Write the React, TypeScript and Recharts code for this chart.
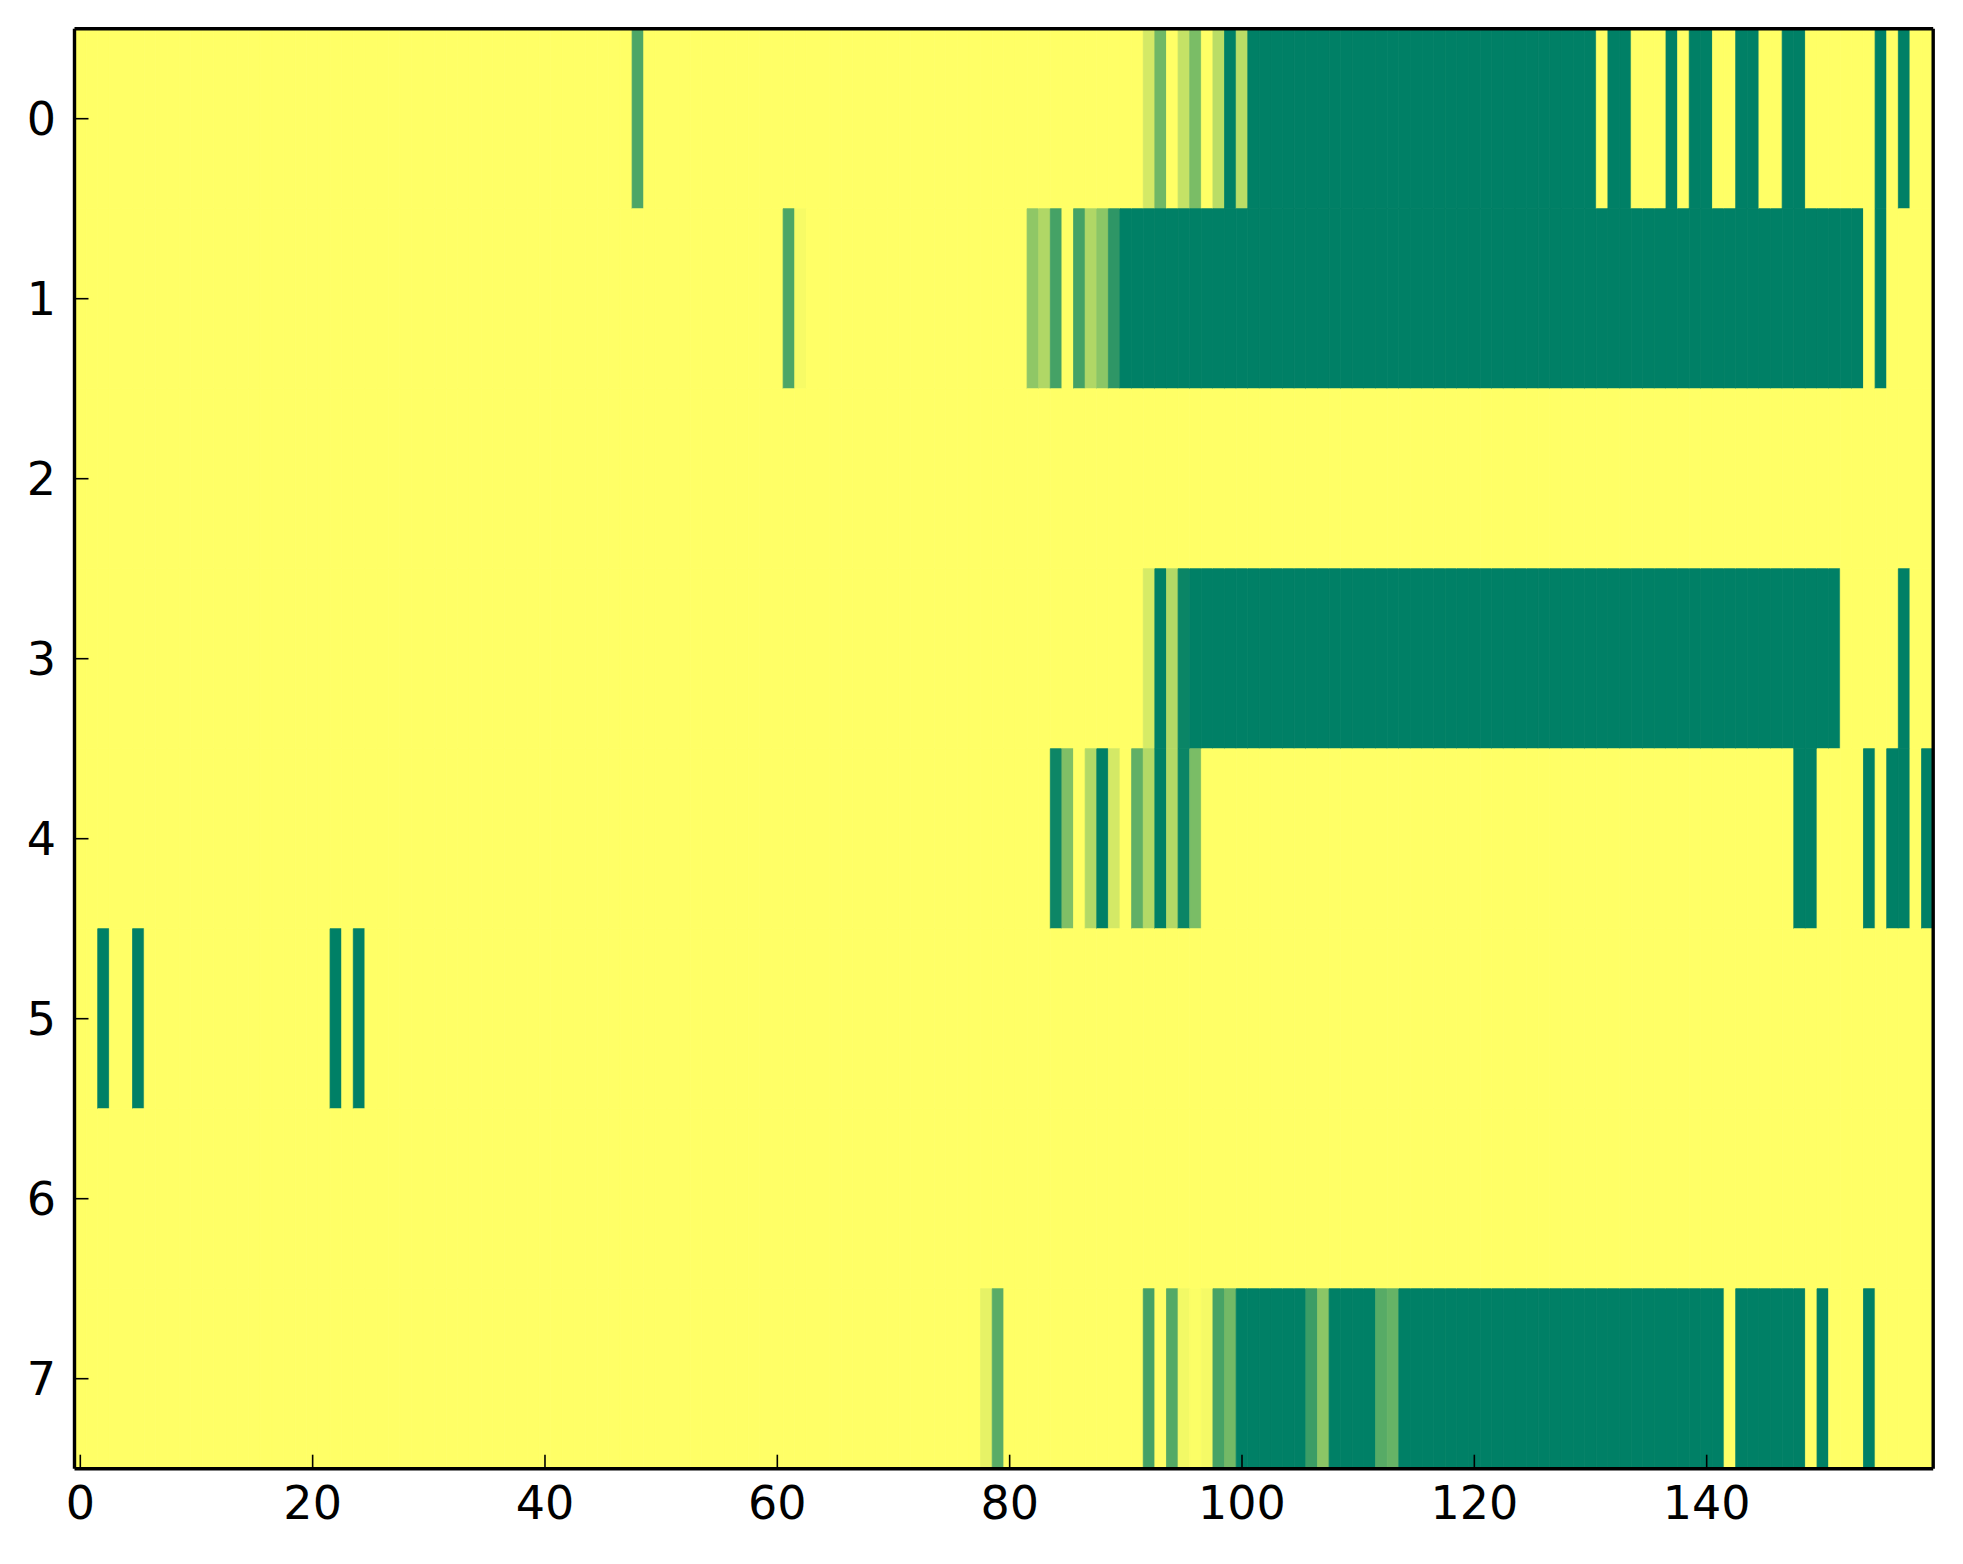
import { BarChart, Bar, Cell, XAxis, YAxis } from "recharts";

// Heatmap rows, one value per column (0 = yellow, 1 = dark green, summer_r map)
const ROW_LABELS = ["0", "1", "2", "3", "4", "5", "6", "7"];
const X_TICKS = [0, 20, 40, 60, 80, 100, 120, 140];

const row0 = [
  0, 0, 0, 0, 0, 0, 0, 0, 0, 0, 0, 0, 0, 0, 0, 0, 0, 0, 0, 0,
  0, 0, 0, 0, 0, 0, 0, 0, 0, 0, 0, 0, 0, 0, 0, 0, 0, 0, 0, 0,
  0, 0, 0, 0, 0, 0, 0, 0, 0.7, 0, 0, 0, 0, 0, 0, 0, 0, 0, 0, 0,
  0, 0, 0, 0, 0, 0, 0, 0, 0, 0, 0, 0, 0, 0, 0, 0, 0, 0, 0, 0,
  0, 0, 0, 0, 0, 0, 0, 0, 0, 0, 0, 0, 0.17, 0.56, 0, 0.23, 0.52, 0, 0.27, 1,
  0.27, 1, 1, 1, 1, 1, 1, 1, 1, 1, 1, 1, 1, 1, 1, 1, 1, 1, 1, 1,
  1, 1, 1, 1, 1, 1, 1, 1, 1, 1, 1, 0, 1, 1, 0, 0, 0, 1, 0, 1,
  1, 0, 0, 1, 1, 0, 0, 1, 1, 0, 0, 0, 0, 0, 0, 1, 0, 1, 0, 0,
];

const row1 = [
  0, 0, 0, 0, 0, 0, 0, 0, 0, 0, 0, 0, 0, 0, 0, 0, 0, 0, 0, 0,
  0, 0, 0, 0, 0, 0, 0, 0, 0, 0, 0, 0, 0, 0, 0, 0, 0, 0, 0, 0,
  0, 0, 0, 0, 0, 0, 0, 0, 0, 0, 0, 0, 0, 0, 0, 0, 0, 0, 0, 0,
  0, 0.7, 0.03, 0, 0, 0, 0, 0, 0, 0, 0, 0, 0, 0, 0, 0, 0, 0, 0, 0,
  0, 0, 0.44, 0.31, 0.73, 0, 0.73, 0.31, 0.45, 0.82, 1, 1, 1, 1, 1, 1, 1, 1, 1, 1,
  1, 1, 1, 1, 1, 1, 1, 1, 1, 1, 1, 1, 1, 1, 1, 1, 1, 1, 1, 1,
  1, 1, 1, 1, 1, 1, 1, 1, 1, 1, 1, 1, 1, 1, 1, 1, 1, 1, 1, 1,
  1, 1, 1, 1, 1, 1, 1, 1, 1, 1, 1, 1, 1, 1, 0, 1, 0, 0, 0, 0,
];

const row2 = [
  0, 0, 0, 0, 0, 0, 0, 0, 0, 0, 0, 0, 0, 0, 0, 0, 0, 0, 0, 0,
  0, 0, 0, 0, 0, 0, 0, 0, 0, 0, 0, 0, 0, 0, 0, 0, 0, 0, 0, 0,
  0, 0, 0, 0, 0, 0, 0, 0, 0, 0, 0, 0, 0, 0, 0, 0, 0, 0, 0, 0,
  0, 0, 0, 0, 0, 0, 0, 0, 0, 0, 0, 0, 0, 0, 0, 0, 0, 0, 0, 0,
  0, 0, 0, 0, 0, 0, 0, 0, 0, 0, 0, 0, 0, 0, 0, 0, 0, 0, 0, 0,
  0, 0, 0, 0, 0, 0, 0, 0, 0, 0, 0, 0, 0, 0, 0, 0, 0, 0, 0, 0,
  0, 0, 0, 0, 0, 0, 0, 0, 0, 0, 0, 0, 0, 0, 0, 0, 0, 0, 0, 0,
  0, 0, 0, 0, 0, 0, 0, 0, 0, 0, 0, 0, 0, 0, 0, 0, 0, 0, 0, 0,
];

const row3 = [
  0, 0, 0, 0, 0, 0, 0, 0, 0, 0, 0, 0, 0, 0, 0, 0, 0, 0, 0, 0,
  0, 0, 0, 0, 0, 0, 0, 0, 0, 0, 0, 0, 0, 0, 0, 0, 0, 0, 0, 0,
  0, 0, 0, 0, 0, 0, 0, 0, 0, 0, 0, 0, 0, 0, 0, 0, 0, 0, 0, 0,
  0, 0, 0, 0, 0, 0, 0, 0, 0, 0, 0, 0, 0, 0, 0, 0, 0, 0, 0, 0,
  0, 0, 0, 0, 0, 0, 0, 0, 0, 0, 0, 0, 0.16, 1, 0.3, 0.96, 1, 1, 1, 1,
  1, 1, 1, 1, 1, 1, 1, 1, 1, 1, 1, 1, 1, 1, 1, 1, 1, 1, 1, 1,
  1, 1, 1, 1, 1, 1, 1, 1, 1, 1, 1, 1, 1, 1, 1, 1, 1, 1, 1, 1,
  1, 1, 1, 1, 1, 1, 1, 1, 1, 1, 1, 1, 0, 0, 0, 0, 0, 1, 0, 0,
];

const row4 = [
  0, 0, 0, 0, 0, 0, 0, 0, 0, 0, 0, 0, 0, 0, 0, 0, 0, 0, 0, 0,
  0, 0, 0, 0, 0, 0, 0, 0, 0, 0, 0, 0, 0, 0, 0, 0, 0, 0, 0, 0,
  0, 0, 0, 0, 0, 0, 0, 0, 0, 0, 0, 0, 0, 0, 0, 0, 0, 0, 0, 0,
  0, 0, 0, 0, 0, 0, 0, 0, 0, 0, 0, 0, 0, 0, 0, 0, 0, 0, 0, 0,
  0, 0, 0, 0, 0.95, 0.5, 0, 0.3, 1, 0.17, 0, 0.62, 0.3, 1, 0.3, 0.96, 0.52, 0, 0, 0,
  0, 0, 0, 0, 0, 0, 0, 0, 0, 0, 0, 0, 0, 0, 0, 0, 0, 0, 0, 0,
  0, 0, 0, 0, 0, 0, 0, 0, 0, 0, 0, 0, 0, 0, 0, 0, 0, 0, 0, 0,
  0, 0, 0, 0, 0, 0, 0, 0, 1, 1, 0, 0, 0, 0, 1, 0, 1, 1, 0, 1,
];

const row5 = [
  0, 0, 1, 0, 0, 1, 0, 0, 0, 0, 0, 0, 0, 0, 0, 0, 0, 0, 0, 0,
  0, 0, 1, 0, 1, 0, 0, 0, 0, 0, 0, 0, 0, 0, 0, 0, 0, 0, 0, 0,
  0, 0, 0, 0, 0, 0, 0, 0, 0, 0, 0, 0, 0, 0, 0, 0, 0, 0, 0, 0,
  0, 0, 0, 0, 0, 0, 0, 0, 0, 0, 0, 0, 0, 0, 0, 0, 0, 0, 0, 0,
  0, 0, 0, 0, 0, 0, 0, 0, 0, 0, 0, 0, 0, 0, 0, 0, 0, 0, 0, 0,
  0, 0, 0, 0, 0, 0, 0, 0, 0, 0, 0, 0, 0, 0, 0, 0, 0, 0, 0, 0,
  0, 0, 0, 0, 0, 0, 0, 0, 0, 0, 0, 0, 0, 0, 0, 0, 0, 0, 0, 0,
  0, 0, 0, 0, 0, 0, 0, 0, 0, 0, 0, 0, 0, 0, 0, 0, 0, 0, 0, 0,
];

const row6 = [
  0, 0, 0, 0, 0, 0, 0, 0, 0, 0, 0, 0, 0, 0, 0, 0, 0, 0, 0, 0,
  0, 0, 0, 0, 0, 0, 0, 0, 0, 0, 0, 0, 0, 0, 0, 0, 0, 0, 0, 0,
  0, 0, 0, 0, 0, 0, 0, 0, 0, 0, 0, 0, 0, 0, 0, 0, 0, 0, 0, 0,
  0, 0, 0, 0, 0, 0, 0, 0, 0, 0, 0, 0, 0, 0, 0, 0, 0, 0, 0, 0,
  0, 0, 0, 0, 0, 0, 0, 0, 0, 0, 0, 0, 0, 0, 0, 0, 0, 0, 0, 0,
  0, 0, 0, 0, 0, 0, 0, 0, 0, 0, 0, 0, 0, 0, 0, 0, 0, 0, 0, 0,
  0, 0, 0, 0, 0, 0, 0, 0, 0, 0, 0, 0, 0, 0, 0, 0, 0, 0, 0, 0,
  0, 0, 0, 0, 0, 0, 0, 0, 0, 0, 0, 0, 0, 0, 0, 0, 0, 0, 0, 0,
];

const row7 = [
  0, 0, 0, 0, 0, 0, 0, 0, 0, 0, 0, 0, 0, 0, 0, 0, 0, 0, 0, 0,
  0, 0, 0, 0, 0, 0, 0, 0, 0, 0, 0, 0, 0, 0, 0, 0, 0, 0, 0, 0,
  0, 0, 0, 0, 0, 0, 0, 0, 0, 0, 0, 0, 0, 0, 0, 0, 0, 0, 0, 0,
  0, 0, 0, 0, 0, 0, 0, 0, 0, 0, 0, 0, 0, 0, 0, 0, 0, 0, 0.1, 0.65,
  0, 0, 0, 0, 0, 0, 0, 0, 0, 0, 0, 0, 0.73, 0, 0.67, 0.05, 0.01, 0.04, 0.72, 0.55,
  1, 1, 1, 1, 1, 1, 0.77, 0.45, 1, 1, 1, 1, 0.66, 0.6, 1, 1, 1, 1, 1, 1,
  1, 1, 1, 1, 1, 1, 1, 1, 1, 1, 1, 1, 1, 1, 1, 1, 1, 1, 1, 1,
  1, 1, 0, 1, 1, 1, 1, 1, 1, 0, 1, 0, 0, 0, 1, 0, 0, 0, 0, 0,
];

const ROWS = [row0, row1, row2, row3, row4, row5, row6, row7];
const N_COLS = row0.length;

// matplotlib "summer_r"
function summerR(v: number) {
  const r = Math.round(255 * (1 - v));
  const g = Math.round(255 * (1 - 0.5 * v));
  return `rgb(${r},${g},102)`;
}

// each cell is one unit wide in the stack, colour carries the value
const chartData = ROW_LABELS.map((label) => {
  const entry: Record<string, string | number> = { row: label };
  for (let c = 0; c < N_COLS; c++) entry[`c${c}`] = 1;
  return entry;
});

// stack starts at 0, so column c sits on [c, c+1]; ticks shifted by half a cell
const xTickPos = X_TICKS.map((t) => t + 0.5);

const FONT = { fontFamily: "DejaVu Sans", fontSize: 46, fill: "#000" };
const TICK_LINE = { stroke: "#000", strokeWidth: 1.6 };
const SPINE = { stroke: "#000", strokeWidth: 3.4 };

export default function App() {
  return (
    <div style={{ width: 1947, height: 1548 }}>
      <BarChart
        width={1947}
        height={1548}
        data={chartData}
        layout="vertical"
        margin={{ top: 10.7, right: 11.8, bottom: 27.3, left: 6.5 }}
        barCategoryGap={0}
        barGap={0}
      >
        {Array.from({ length: N_COLS }, (_, c) => (
          <Bar
            key={c}
            dataKey={`c${c}`}
            stackId="cells"
            isAnimationActive={false}
          >
            {ROWS.map((r, i) => (
              <Cell
                key={i}
                fill={summerR(r[c])}
                stroke={summerR(r[c])}
                strokeWidth={0.8}
              />
            ))}
          </Bar>
        ))}
        <XAxis
          type="number"
          domain={[0, N_COLS]}
          allowDataOverflow
          ticks={xTickPos}
          tickFormatter={(v: number) => String(v - 0.5)}
          interval={0}
          height={60}
          tickSize={-14}
          tickMargin={32}
          tick={FONT}
          tickLine={TICK_LINE}
          axisLine={SPINE}
        />
        <XAxis
          xAxisId="top"
          orientation="top"
          type="number"
          domain={[0, N_COLS]}
          allowDataOverflow
          ticks={xTickPos}
          interval={0}
          height={10}
          tickSize={-14}
          tick={false}
          tickLine={TICK_LINE}
          axisLine={SPINE}
        />
        <YAxis
          type="category"
          dataKey="row"
          width={60}
          interval={0}
          tickSize={-14}
          tickMargin={32.5}
          tick={FONT}
          tickLine={TICK_LINE}
          axisLine={SPINE}
        />
        <YAxis
          yAxisId="right"
          orientation="right"
          type="category"
          dataKey="row"
          width={10}
          interval={0}
          tickSize={-14}
          tick={false}
          tickLine={TICK_LINE}
          axisLine={SPINE}
        />
      </BarChart>
    </div>
  );
}
